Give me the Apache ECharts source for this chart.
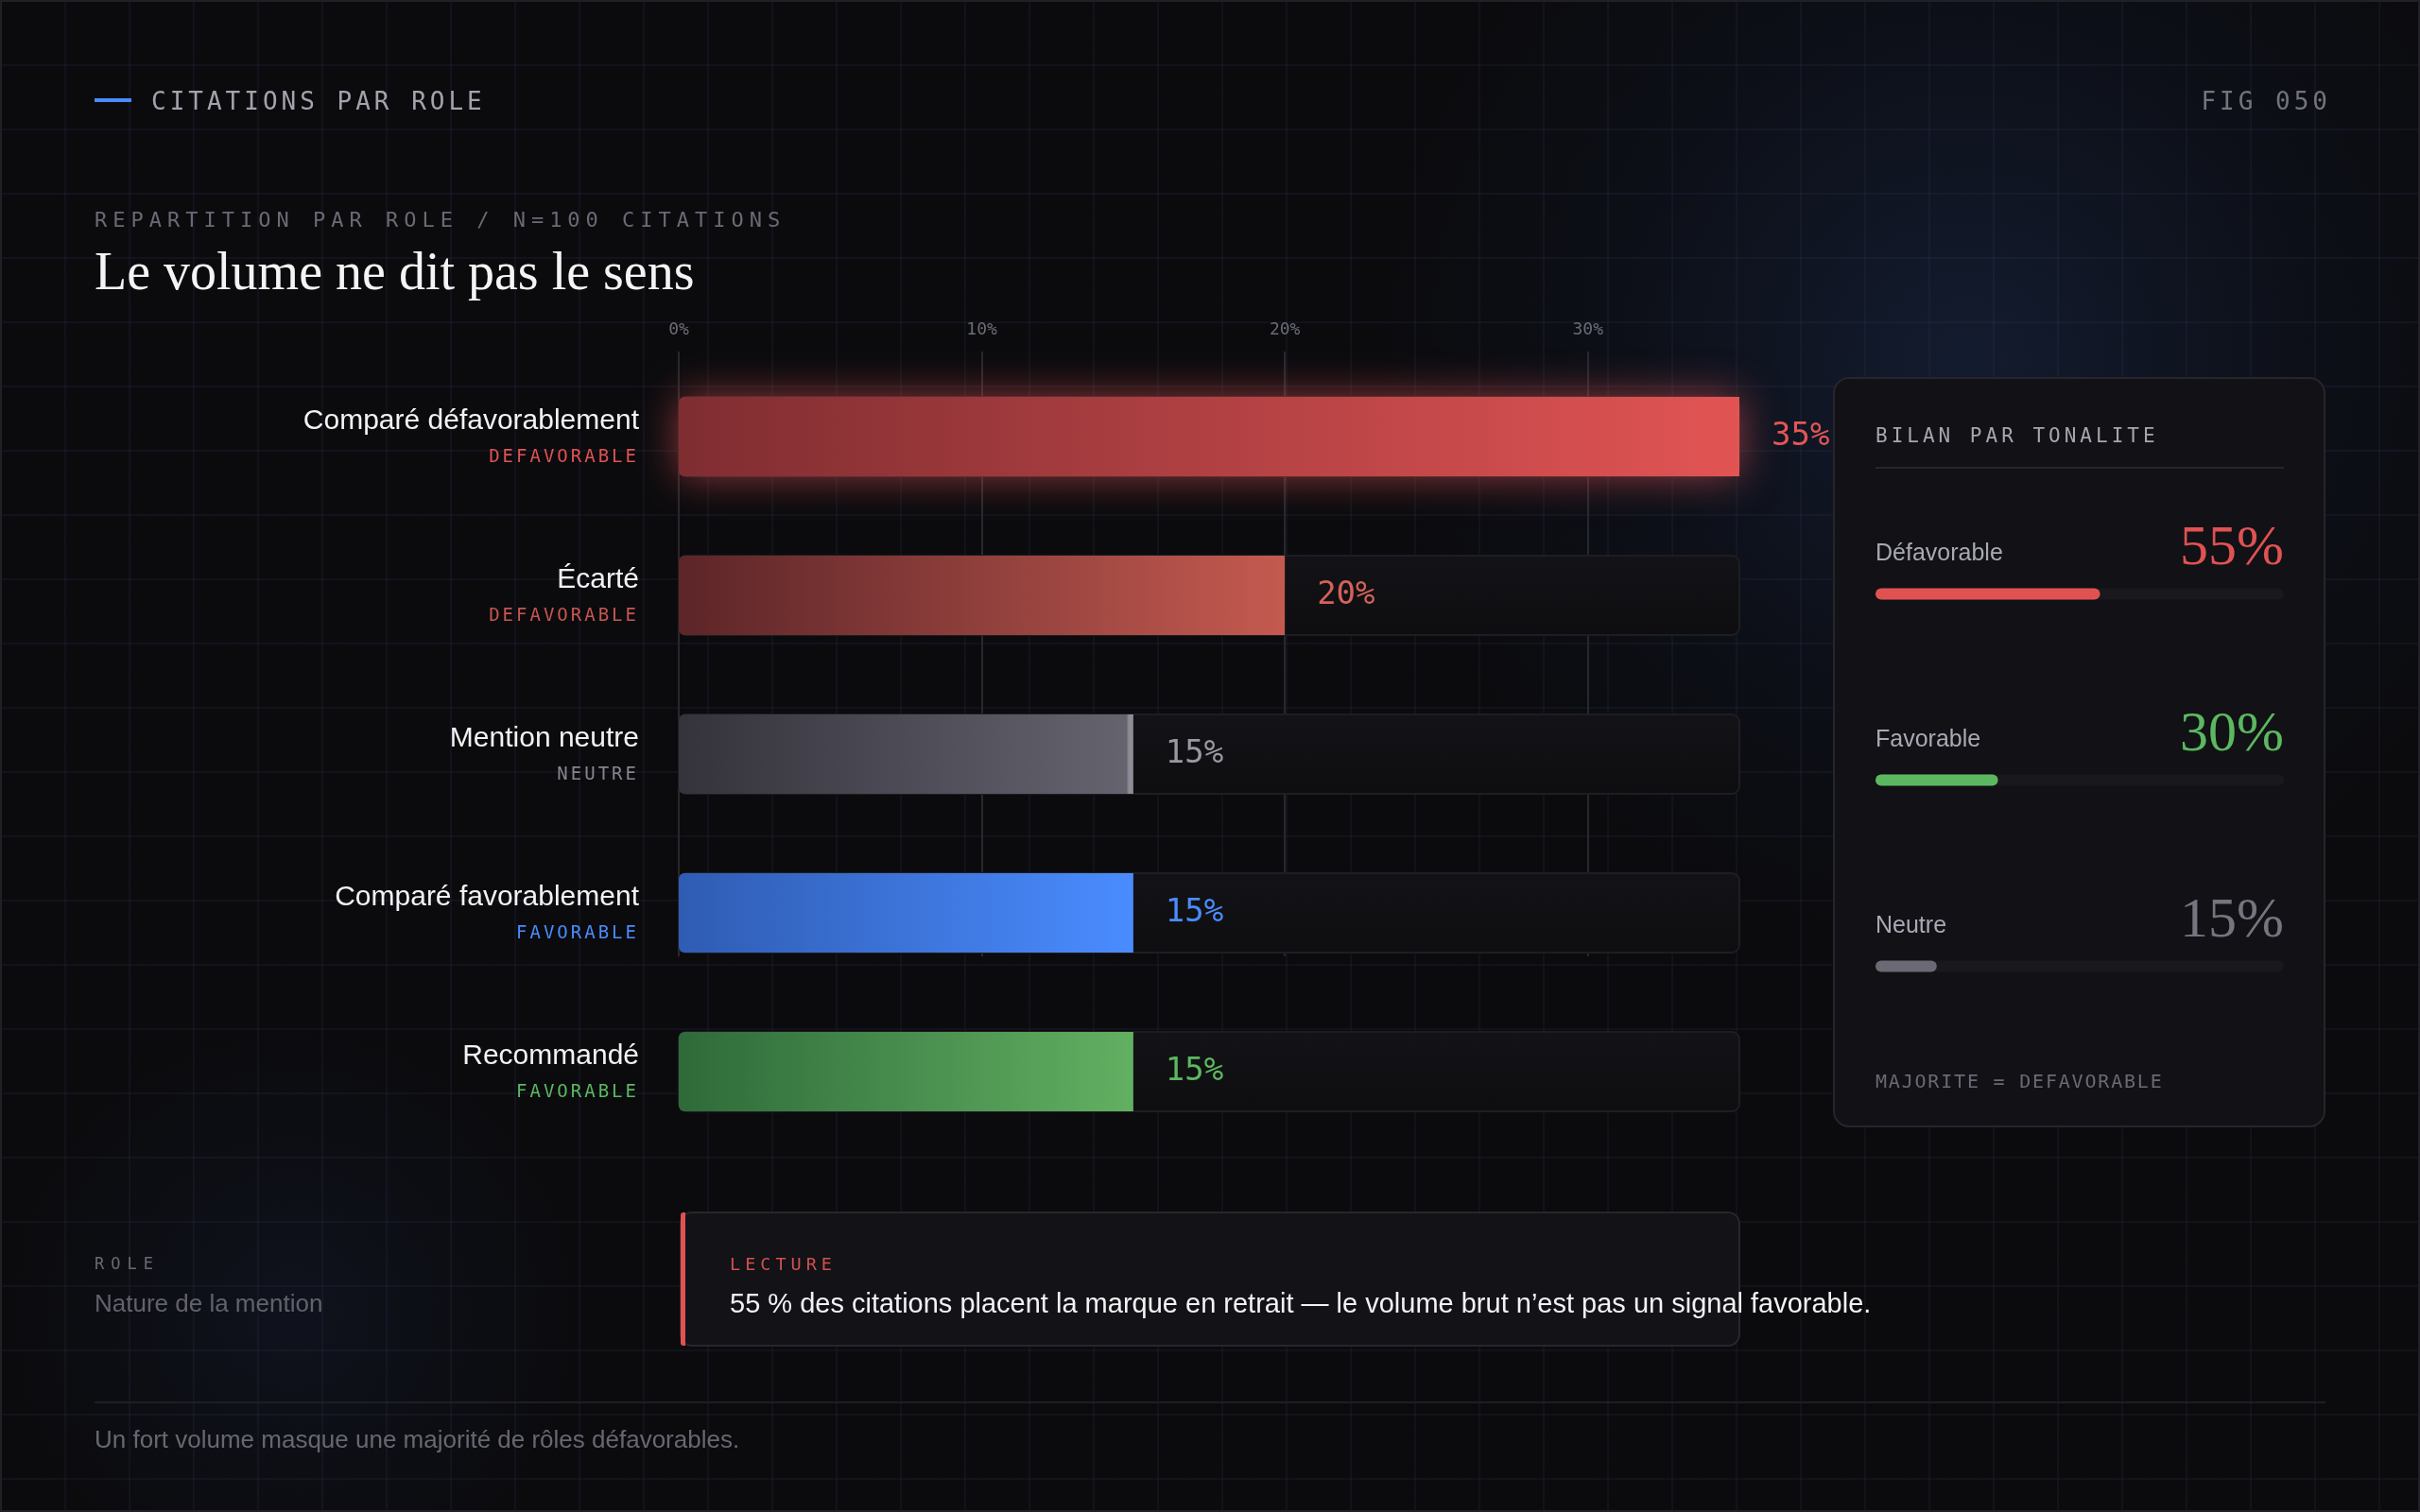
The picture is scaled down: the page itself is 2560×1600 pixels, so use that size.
<!DOCTYPE html>
<html>
<head>
<meta charset="utf-8">
<title>Citations par role</title>
<script src="https://cdn.jsdelivr.net/npm/echarts@6/dist/echarts.min.js"></script>
<style>
  html, body { margin: 0; padding: 0; background: #0b0b0e; }
  #chart {
    width: 2560px;
    height: 1600px;
    background-color: #0b0b0e;
    background-image:
      linear-gradient(rgba(72, 86, 140, 0.10) 2px, transparent 2px),
      linear-gradient(90deg, rgba(72, 86, 140, 0.10) 2px, transparent 2px),
      radial-gradient(circle at 2080px 380px, rgba(30, 50, 92, 0.42) 0, rgba(20, 34, 64, 0.2) 360px, rgba(11, 11, 14, 0) 620px),
      radial-gradient(circle at 310px 1390px, rgba(24, 34, 60, 0.32) 0, rgba(11, 11, 14, 0) 300px);
    background-size: 68px 68px, 68px 68px, auto, auto;
  }
</style>
</head>
<body>
<div id="chart"></div>
<script>
// data
const roles = ['Comparé défavorablement', 'Écarté', 'Mention neutre', 'Comparé favorablement', 'Recommandé']
const tones = ['DEFAVORABLE', 'DEFAVORABLE', 'NEUTRE', 'FAVORABLE', 'FAVORABLE']
const shares = [35, 20, 15, 15, 15]
const tickValues = [0, 10, 20, 30]
const axisMax = 35
const toneNames = ['Défavorable', 'Favorable', 'Neutre']
const toneShares = [55, 30, 15]

const SANS = "'Liberation Sans', Arial, sans-serif"
const SERIF = "'Liberation Serif', serif"
const MONO = "'DejaVu Sans Mono', monospace"

// mono captions are letter-spaced in the source: canvas letterSpacing follows the font size
const TRACKING = { 26: 4, 22: 6, 21: 4, 20: 1.8, 19: 3, 18.5: 5, 17: 7 }
const fontProp = Object.getOwnPropertyDescriptor(CanvasRenderingContext2D.prototype, 'font')
Object.defineProperty(CanvasRenderingContext2D.prototype, 'font', {
  configurable: true,
  get () { return fontProp.get.call(this) },
  set (v) {
    fontProp.set.call(this, v)
    const m = /([\d.]+)px/.exec(v)
    const px = m ? parseFloat(m[1]) : 0
    this.letterSpacing = (/Mono/.test(v) && TRACKING[px]) ? TRACKING[px] + 'px' : '0px'
  }
})

const rowColors = [
  { from: '#7f2d31', to: '#e25454', label: '#e25656', tag: '#e05252' },
  { from: '#5c2528', to: '#c45a50', label: '#d3625a', tag: '#c8564f' },
  { from: '#34333c', to: '#65636e', label: '#9a99a3', tag: '#86858f' },
  { from: '#2f5cb3', to: '#4a8cff', label: '#4a8cff', tag: '#4a8cff' },
  { from: '#2e6a39', to: '#62b062', label: '#5cb860', tag: '#5cb860' }
]
const toneColors = ['#e05252', '#5cb860', '#6b6973']
const toneValueColors = ['#e05252', '#5cb860', '#76747f']

function grad (c, i) {
  if (i === 2) {
    // neutral bar ends with a light edge
    return new echarts.graphic.LinearGradient(0, 0, 1, 0, [
      { offset: 0, color: c.from }, { offset: 0.985, color: c.to },
      { offset: 0.99, color: '#8e8c96' }, { offset: 1, color: '#8e8c96' }
    ])
  }
  return new echarts.graphic.LinearGradient(0, 0, 1, 0, [
    { offset: 0, color: c.from }, { offset: 1, color: c.to }
  ])
}

const tagRich = {}
rowColors.forEach((c, i) => {
  tagRich['t' + i] = { fontFamily: MONO, fontSize: 19, color: c.tag, lineHeight: 38, align: 'right' }
})
const valueRich = {}
toneValueColors.forEach((c, i) => {
  valueRich['v' + i] = { fontFamily: SERIF, fontSize: 60, color: c, width: 132, align: 'right', lineHeight: 70 }
})

function text (x, y, str, font, fill, align) {
  return {
    type: 'text',
    style: {
      x: x, y: y, text: str, font: font, fill: fill,
      align: align || 'left', textAlign: align || 'left',
      verticalAlign: 'middle', textVerticalAlign: 'middle'
    }
  }
}

const chart = echarts.init(document.getElementById('chart'))

const option = {
  animation: false,
  backgroundColor: 'transparent',
  grid: [
    { left: 718, top: 378, width: 1122, height: 840 },
    { left: 718, top: 372, width: 1122, height: 640 },
    { left: 1984, top: 530, width: 432, height: 591 }
  ],
  xAxis: [
    { gridIndex: 0, type: 'value', min: 0, max: axisMax, show: false },
    {
      gridIndex: 1,
      type: 'value',
      position: 'top',
      min: tickValues[0],
      max: axisMax,
      interval: tickValues[1] - tickValues[0],
      axisLine: { show: false },
      axisTick: { show: false },
      axisLabel: {
        showMaxLabel: false,
        formatter: '{value}%',
        fontFamily: MONO,
        fontSize: 18,
        color: '#6c6c76',
        margin: 14
      },
      splitLine: { show: true, showMaxLine: false, lineStyle: { color: '#27272e', width: 2 } }
    },
    { gridIndex: 2, type: 'value', min: 0, max: 100, show: false }
  ],
  yAxis: [
    {
      gridIndex: 0,
      type: 'category',
      data: roles,
      inverse: true,
      axisLine: { show: false },
      axisTick: { show: false },
      axisLabel: {
        margin: 42,
        padding: [6, 0, 0, 0],
        formatter: (v, i) => '{n|' + v + '}\n{t' + i + '|' + tones[i] + '}',
        rich: Object.assign({
          n: { fontFamily: SANS, fontSize: 30, color: '#f2f2f5', lineHeight: 38, align: 'right' }
        }, tagRich)
      }
    },
    { gridIndex: 1, type: 'value', min: 0, max: 1, show: false },
    { gridIndex: 2, type: 'category', data: toneNames, inverse: true, show: false }
  ],
  graphic: [
    { type: 'rect', shape: { x: 1, y: 1, width: 2558, height: 1598 }, style: { fill: 'none', stroke: '#202026', lineWidth: 2 } },
    // header
    { type: 'rect', shape: { x: 100, y: 104, width: 39, height: 4 }, style: { fill: '#4a8cff' } },
    text(160, 109, 'CITATIONS PAR ROLE', '26px ' + MONO, '#a3a3ad'),
    text(2466, 109, 'FIG 050', '26px ' + MONO, '#74747e', 'right'),
    text(100, 234, 'REPARTITION PAR ROLE / N=100 CITATIONS', '22px ' + MONO, '#6a6a74'),
    text(100, 291, 'Le volume ne dit pas le sens', '56px ' + SERIF, '#f4f4f6'),
    // tone panel
    { type: 'rect', shape: { x: 1940, y: 400, width: 519, height: 792, r: 16 }, style: { fill: '#111116', stroke: '#25252b', lineWidth: 2 } },
    text(1984, 463, 'BILAN PAR TONALITE', '21px ' + MONO, '#a6a6b0'),
    { type: 'line', shape: { x1: 1984, y1: 495, x2: 2416, y2: 495 }, style: { stroke: '#25252b', lineWidth: 2 } },
    text(1984, 1146, 'MAJORITE = DEFAVORABLE', '20px ' + MONO, '#6a6a74'),
    // reading box
    text(100, 1339, 'ROLE', '17px ' + MONO, '#6a6a74'),
    text(100, 1381, 'Nature de la mention', '26px ' + SANS, '#62626c'),
    { type: 'rect', shape: { x: 720, y: 1283, width: 1120, height: 141, r: 12 }, style: { fill: '#121217', stroke: '#26262c', lineWidth: 2 } },
    { type: 'rect', shape: { x: 720, y: 1283, width: 5, height: 141, r: [3, 0, 0, 3] }, style: { fill: '#e05252' } },
    text(772, 1339, 'LECTURE', '18.5px ' + MONO, '#d2504f'),
    text(772, 1381, '55 % des citations placent la marque en retrait — le volume brut n’est pas un signal favorable.', '29px ' + SANS, '#f2f2f4'),
    // footer
    { type: 'line', shape: { x1: 100, y1: 1484, x2: 2460, y2: 1484 }, style: { stroke: '#1e1e24', lineWidth: 2 } },
    text(100, 1525, 'Un fort volume masque une majorité de rôles défavorables.', '26px ' + SANS, '#676771')
  ],
  series: [
    {
      type: 'bar',
      xAxisIndex: 0,
      yAxisIndex: 0,
      barWidth: 84,
      showBackground: true,
      backgroundStyle: {
        color: new echarts.graphic.LinearGradient(0, 0, 0, 1, [
          { offset: 0, color: '#131317' }, { offset: 1, color: '#0e0e11' }
        ]),
        borderColor: '#1d1d23',
        borderWidth: 2,
        borderRadius: 8
      },
      label: {
        show: true,
        position: 'right',
        distance: 34,
        formatter: '{c}%',
        fontFamily: MONO,
        fontSize: 34
      },
      data: shares.map((v, i) => ({
        value: v,
        itemStyle: Object.assign({
          color: grad(rowColors[i], i),
          borderRadius: [6, 0, 0, 6]
        }, i === 0 ? { shadowBlur: 44, shadowColor: 'rgba(226, 84, 84, 0.62)' } : {}),
        label: { color: rowColors[i].label }
      }))
    },
    {
      type: 'bar',
      xAxisIndex: 2,
      yAxisIndex: 2,
      barWidth: 12,
      showBackground: true,
      backgroundStyle: { color: '#18181d', borderRadius: 6 },
      itemStyle: { borderRadius: 6 },
      label: {
        show: true,
        position: [0, -41],
        align: 'left',
        verticalAlign: 'middle',
        formatter: p => '{n|' + p.name + '}{v' + p.dataIndex + '|' + p.value + '%}',
        rich: Object.assign({
          n: { fontFamily: SANS, fontSize: 25, color: '#a9a9b4', width: 300, align: 'left', padding: [10, 0, 0, 0] }
        }, valueRich)
      },
      data: toneShares.map((v, i) => ({ value: v, itemStyle: { color: toneColors[i] } }))
    }
  ]
}

chart.setOption(option)
</script>
</body>
</html>
